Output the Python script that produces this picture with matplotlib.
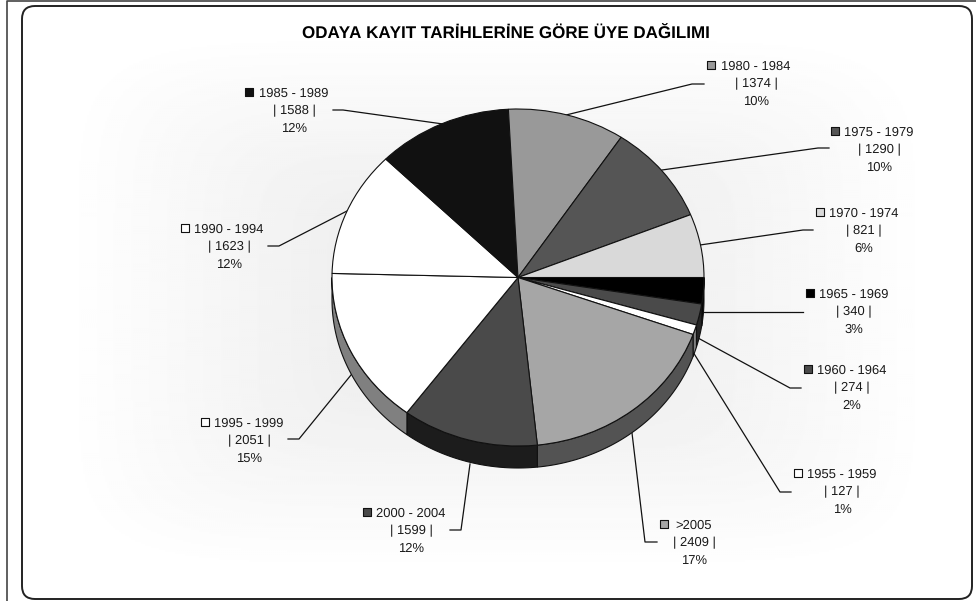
import numpy as np
import matplotlib
matplotlib.use('Agg')
import matplotlib.pyplot as plt
from matplotlib.patches import FancyBboxPatch

plt.rcParams['font.family'] = ['Liberation Sans', 'DejaVu Sans']
plt.rcParams['text.hinting'] = 'none'
plt.rcParams['text.hinting_factor'] = 1

# data, clockwise from 3 o'clock
periods = ['1965 - 1969', '1960 - 1964', '1955 - 1959', '>2005', '2000 - 2004', '1995 - 1999',
           '1990 - 1994', '1985 - 1989', '1980 - 1984', '1975 - 1979', '1970 - 1974']
counts = [340, 274, 127, 2409, 1599, 2051, 1623, 1588, 1374, 1290, 821]
percents = ['3%', '2%', '1%', '17%', '12%', '15%', '12%', '12%', '10%', '10%', '6%']
title = 'ODAYA KAYIT TARİHLERİNE GÖRE ÜYE DAĞILIMI'

top_colors = ['#000000', '#4a4a4a', '#ffffff', '#a6a6a6', '#4a4a4a', '#ffffff',
              '#ffffff', '#111111', '#999999', '#555555', '#d9d9d9']
side_colors = ['#000000', '#252525', '#808080', '#535353', '#1c1c1c', '#808080',
               '#808080', '#080808', '#4c4c4c', '#2a2a2a', '#6c6c6c']

# label layout in pixels: text centre x, first line y, key x
label_x = [854, 852, 842, 694, 411, 249, 229, 294, 756, 879, 864]
label_y = [293, 369, 473, 524, 512, 422, 228, 92, 65, 131, 212]
key_x = [810, 808, 798, 664, 367, 205, 185, 249, 711, 835, 820]
leaders = [
    [(703, 312), (792, 312), (803, 312)],
    [(698, 338), (790, 388), (801, 388)],
    [(693, 352), (780, 492), (791, 492)],
    [(632, 433), (645, 542), (657, 542)],
    [(470, 464), (461, 530), (450, 530)],
    [(351, 375), (299, 439), (288, 439)],
    [(347, 211), (279, 246), (268, 246)],
    [(443, 124), (343, 110), (333, 110)],
    [(566, 115), (692, 84), (704, 84)],
    [(662, 170), (818, 148), (829, 148)],
    [(700, 245), (803, 230), (813, 230)],
]

fig = plt.figure(figsize=(9.76, 6.01), dpi=100)
bg = fig.add_axes([0, 0, 1, 1])
bg.set_xlim(0, 976)
bg.set_ylim(601, 0)
bg.axis('off')

# outer sheet edge
bg.plot([6.5, 6.5, 976], [601, 0.5, 0.5], color='#444444', lw=1.2)

# rounded chart area with rectangular gradient
frame = FancyBboxPatch((34, 18), 926, 569, boxstyle='round,pad=12,rounding_size=13',
                       fc='none', ec='#222222', lw=1.4, zorder=3)
bg.add_patch(frame)
xx, yy = np.meshgrid(np.linspace(22, 972, 475), np.linspace(6, 599, 297))
u = np.abs(xx - 497) / 475
v = np.abs(yy - 302) / 296
t = (u ** 6 + v ** 6) ** (1 / 6)
shade = np.round(255 - 24 * np.clip(1 - t / 0.9, 0, 1))
img = bg.imshow(shade, extent=(22, 972, 599, 6), cmap='gray', vmin=0, vmax=255,
                interpolation='bilinear', aspect='auto', zorder=1)
img.set_clip_path(frame)
bg.set_xlim(0, 976)
bg.set_ylim(601, 0)

bg.text(505.5, 33, title, fontsize=12.55, fontweight='bold', ha='center', va='center', color='#000000', zorder=4)

for i, name in enumerate(periods):
    lines = [name, f'| {counts[i]} |', percents[i]]
    for j, s in enumerate(lines):
        bg.text(label_x[i], label_y[i] + 17.5 * j + 4.5, s, fontsize=9.4, ha='center', va='baseline',
                color='#1a1a1a', zorder=4)
    bg.scatter([key_x[i]], [label_y[i]], marker='s', s=36, color=top_colors[i], edgecolors='#111111',
               linewidths=0.8, zorder=4)
    px, py = zip(*leaders[i])
    bg.plot(px, py, color='#111111', lw=0.9, zorder=2)

# pie: top face spans y 109..446, rim goes down to y 468
ax = fig.add_axes([332 / 976, 1 - 468 / 601, 372 / 976, (468 - 109) / 601])
depth = 22 / 168.5
edges = np.cumsum([0] + counts) / sum(counts) * 360
for i in range(len(counts)):
    a0, a1 = edges[i], min(edges[i + 1], 180)
    if a0 >= 180:
        continue
    th = np.radians(np.linspace(a0, a1, 60))
    x = np.cos(th)
    y = -np.sin(th)
    ax.fill(np.r_[x, x[::-1]], np.r_[y, y[::-1] - depth], fc=side_colors[i], ec='#111111', lw=0.8, zorder=0.5)
ax.pie(counts, colors=top_colors, startangle=0, counterclock=False, radius=1,
       wedgeprops=dict(edgecolor='#111111', linewidth=0.8))
ax.set_aspect('auto')
ax.set_xlim(-1, 1)
ax.set_ylim(-1 - depth, 1)
ax.patch.set_alpha(0)
ax.axis('off')
for p in ax.patches:
    p.set_clip_on(False)

fig.savefig('out.png', dpi=100)
